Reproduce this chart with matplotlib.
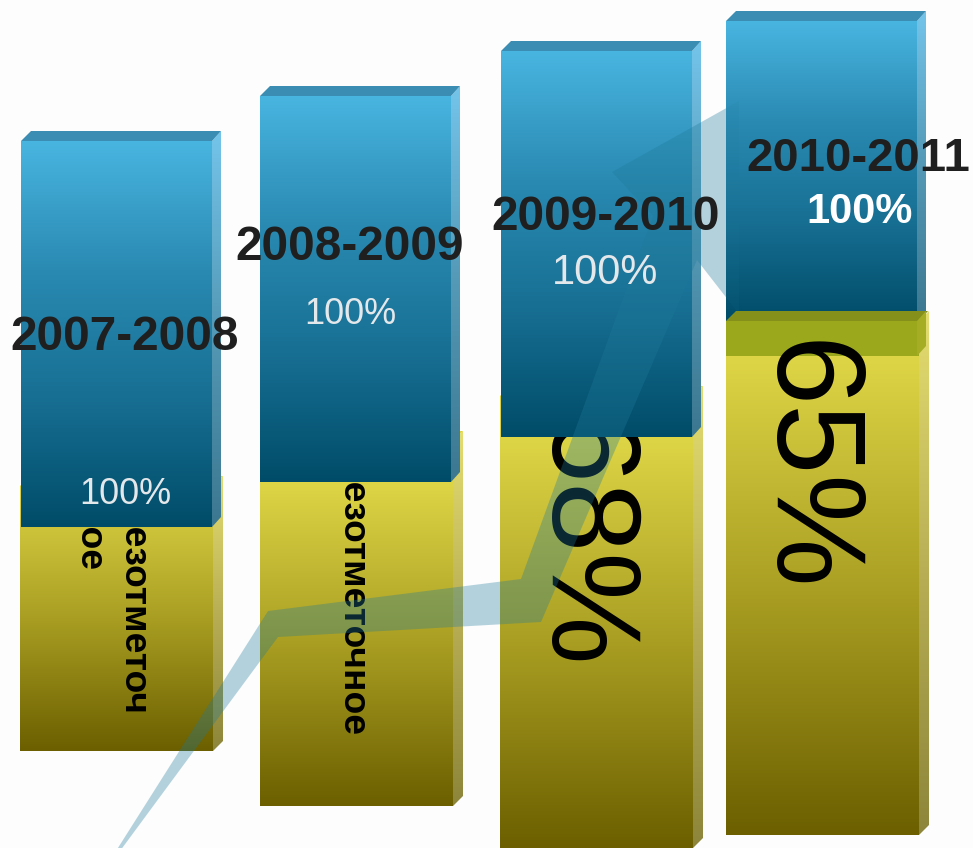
import numpy as np
import matplotlib
matplotlib.use("Agg")
import matplotlib.pyplot as plt
from matplotlib.colors import LinearSegmentedColormap
from matplotlib.patches import Polygon

plt.rcParams['font.family'] = ['Liberation Sans', 'DejaVu Sans']

# values (pixel scale, y grows downwards)
years = ["2007-2008", "2008-2009", "2009-2010", "2010-2011"]
percent_labels = ["100%", "100%", "100%", "100%"]
blue_top = [141, 96, 51, 21]
blue_bottom = [527, 482, 437, 321]
yellow_top = [486, 441, 396, 321]
yellow_bottom = [751, 806, 848, 835]
arrow_x = [116, 268, 521, 653, 612, 739, 739, 697, 541, 278, 120]
arrow_y = [851, 611, 579, 216, 172, 101, 314, 260, 622, 637, 851]

# layout
blue_left = [21, 260, 501, 726]
yellow_left = [20, 260, 500, 726]
gradient_top = [486, 482, 437, 356]
blue_w = 191
yellow_w = 193
depth = 10

blue_cmap = LinearSegmentedColormap.from_list("blue", ["#48b5e0", "#2a8ab2", "#176f93", "#004c68"])
yellow_cmap = LinearSegmentedColormap.from_list("yellow", ["#ded546", "#a99e22", "#6b5f00"])
blue_side = LinearSegmentedColormap.from_list("bside", ["#74c4ea", "#5499b6", "#3c7790"])
yellow_side = LinearSegmentedColormap.from_list("yside", ["#e4dd70", "#b8ae55", "#8d853a"])

fig = plt.figure(figsize=(9.73, 8.48), dpi=100, facecolor="#fdfdfd")
ax = fig.add_axes([0, 0, 1, 1])
ax.set_facecolor("#fdfdfd")
grad = np.linspace(0, 1, 256).reshape(-1, 1)


def shade(pts, cmap, z, alpha=None):
    xs = [p[0] for p in pts]
    ys = [p[1] for p in pts]
    im = ax.imshow(grad, cmap=cmap, aspect="auto", zorder=z, alpha=alpha,
                   extent=[min(xs), max(xs), max(ys), min(ys)])
    clip = Polygon(pts, transform=ax.transData)
    im.set_clip_path(clip)


for i in range(4):
    # yellow part
    l = yellow_left[i]
    r = l + yellow_w
    t = yellow_top[i]
    b = yellow_bottom[i]
    front_top = gradient_top[i]
    shade([(l, front_top), (r, front_top), (r, b), (l, b)], yellow_cmap, 2)
    shade([(r, t), (r + depth, t - depth), (r + depth, b - depth), (r, b)], yellow_side, 2)
    if i < 3:
        ax.add_patch(Polygon([(l, t), (r, t), (r, front_top), (l, front_top)], fc="#dcd33f", ec="none", zorder=2))
        ax.add_patch(Polygon([(l, t), (l + depth, t - depth), (r + depth, t - depth), (r, t)],
                             fc="#dcd33f", ec="none", zorder=2))
    else:
        ax.add_patch(Polygon([(l, t), (r, t), (r, front_top), (l, front_top)], fc="#9ba81b", ec="none", zorder=2))

# text that sits behind the blue bars
ax.text(132, 502, "Безотметоч", rotation=270, ha="center", va="top", fontsize=26.8, fontweight="bold", color="black", zorder=3)
ax.text(88, 506, "ное", rotation=270, ha="center", va="top", fontsize=26.8, fontweight="bold", color="black", zorder=3)
ax.text(351, 457, "Безотметочное", rotation=270, ha="center", va="top", fontsize=26.8, fontweight="bold", color="black", zorder=3)
ax.text(579, 544, "68%", rotation=270, ha="center", va="center", fontsize=91, color="black", zorder=3)
ax.text(804, 466, "65%", rotation=270, ha="center", va="center", fontsize=91, color="black", zorder=3)

for i in range(4):
    # blue part
    l = blue_left[i]
    r = l + blue_w
    t = blue_top[i]
    b = blue_bottom[i]
    shade([(l, t), (r, t), (r, b), (l, b)], blue_cmap, 4)
    shade([(r, t), (r + depth - 1, t - depth), (r + depth - 1, b - depth), (r, b)], blue_side, 4)
    ax.add_patch(Polygon([(l, t), (l + depth, t - depth), (r + depth - 1, t - depth), (r, t)],
                         fc="#3c8db3", ec="none", zorder=4))

# translucent arrow, the last bar covers most of it
ax.add_patch(Polygon(list(zip(arrow_x, arrow_y)), fc="#1f7a9a", alpha=0.33, ec="none", zorder=5))
shade([(726, 21), (917, 21), (917, 321), (726, 321)], blue_cmap, 5.2, alpha=0.7)

# olive top face of the last yellow block
l4 = yellow_left[3]
r4 = l4 + yellow_w
t4 = yellow_top[3]
ax.add_patch(Polygon([(l4, t4), (l4 + depth, t4 - depth), (r4 + depth - 1, t4 - depth), (r4, t4)],
                     fc="#84901a", ec="none", zorder=5.3))
ax.add_patch(Polygon([(917, t4), (926, t4 - depth), (926, gradient_top[3] - depth), (917, gradient_top[3])],
                     fc="#a5ad24", ec="none", zorder=5.3))

title_x = [125, 350, 606, 858]
title_y = [338, 248, 218, 159]
pct_x = [125, 350, 605, 860]
pct_y = [495, 315, 273, 212]
pct_size = [26, 26, 30, 30]
for i in range(4):
    ax.text(title_x[i], title_y[i], years[i], ha="center", va="center", fontsize=34.4 if i < 3 else 34,
            fontweight="bold", color="#1f1f1f", zorder=6)
    ax.text(pct_x[i], pct_y[i], percent_labels[i], ha="center", va="center",
            fontsize=pct_size[i], fontweight="normal" if i < 3 else "bold",
            color="#e4e8ea" if i < 3 else "white", zorder=6)

ax.set_xlim(0, 973)
ax.set_ylim(848, 0)
ax.axis("off")
fig.savefig("out.png", dpi=100, facecolor=fig.get_facecolor())
plt.close(fig)
